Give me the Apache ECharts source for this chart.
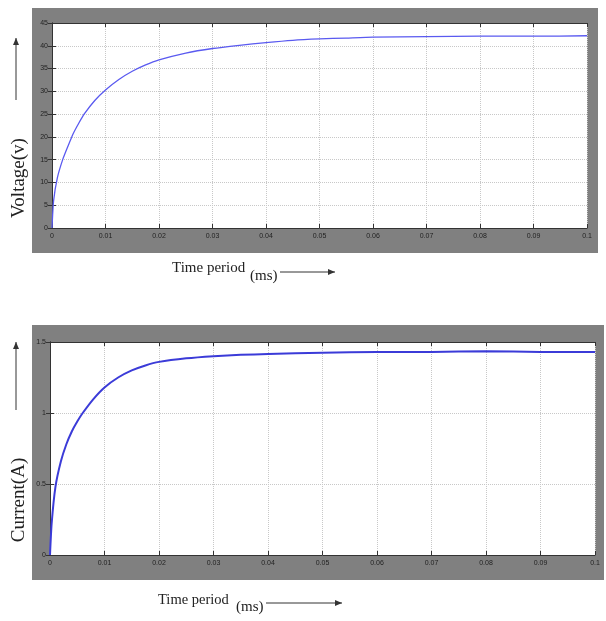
<!DOCTYPE html>
<html>
<head>
<meta charset="utf-8">
<script src="https://cdn.jsdelivr.net/npm/echarts@6/dist/echarts.min.js"></script>
<style>
  html, body { margin: 0; padding: 0; background: #fff; }
  #chart { width: 606px; height: 621px; }
</style>
</head>
<body>
<div id="chart"></div>
<script>
// time axis (ms scale as drawn in the figure)
var xTicks = [0, 0.01, 0.02, 0.03, 0.04, 0.05, 0.06, 0.07, 0.08, 0.09, 0.1];

// voltage response
var voltTime = [0, 0.0003, 0.001, 0.002, 0.003, 0.004, 0.005, 0.006, 0.008, 0.01, 0.0125, 0.015, 0.0175, 0.02, 0.025, 0.03, 0.035, 0.04, 0.045, 0.05, 0.055, 0.06, 0.07, 0.08, 0.09, 0.1];
var voltValue = [0, 6, 11, 15, 18, 20.8, 23, 25, 28, 30.3, 32.6, 34.4, 35.8, 36.9, 38.4, 39.4, 40.1, 40.7, 41.2, 41.5, 41.7, 41.9, 42.0, 42.1, 42.1, 42.2];

// current response
var currTime = [0, 0.0003, 0.001, 0.002, 0.003, 0.004, 0.005, 0.006, 0.008, 0.01, 0.0125, 0.015, 0.0175, 0.02, 0.025, 0.03, 0.035, 0.04, 0.05, 0.06, 0.07, 0.08, 0.09, 0.1];
var currValue = [0, 0.22, 0.48, 0.66, 0.78, 0.87, 0.94, 1.0, 1.1, 1.18, 1.25, 1.30, 1.335, 1.36, 1.385, 1.40, 1.41, 1.415, 1.425, 1.43, 1.43, 1.435, 1.43, 1.43];

function pairs(xs, ys) {
  return xs.map(function (x, i) { return [x, ys[i]]; });
}

var chart = echarts.init(document.getElementById('chart'));

var tickFont = { fontSize: 7, color: '#222', fontFamily: 'Liberation Sans' };
var splitStyle = { show: true, lineStyle: { color: '#c8c8c8', type: 'dotted', width: 1 } };

function xAx(gi, showLabel, pos) {
  return {
    type: 'value', gridIndex: gi, min: 0, max: 0.1, interval: 0.01, position: pos,
    axisLine: { show: true, onZero: false, lineStyle: { color: '#333', width: 1 } },
    axisTick: { show: true, inside: true, length: 4, lineStyle: { color: '#333' } },
    axisLabel: Object.assign({ show: showLabel, margin: 5, formatter: function (v) {
      return v === 0 ? '0' : String(+v.toFixed(2));
    } }, tickFont),
    splitLine: pos === 'bottom' ? splitStyle : { show: false }
  };
}

function yAx(gi, max, step, showLabel, pos) {
  return {
    type: 'value', gridIndex: gi, min: 0, max: max, interval: step, position: pos,
    axisLine: { show: true, lineStyle: { color: '#333', width: 1 } },
    axisTick: { show: true, inside: true, length: 4, lineStyle: { color: '#333' } },
    axisLabel: Object.assign({ show: showLabel, margin: 4 }, tickFont),
    splitLine: pos === 'left' ? splitStyle : { show: false }
  };
}

function arrowH(x1, x2, y) {
  return [
    { type: 'line', shape: { x1: x1, y1: y, x2: x2, y2: y }, style: { stroke: '#333', lineWidth: 1 } },
    { type: 'polygon', shape: { points: [[x2, y], [x2 - 7, y - 3], [x2 - 7, y + 3]] }, style: { fill: '#333' } }
  ];
}
function arrowV(x, y1, y2) {
  return [
    { type: 'line', shape: { x1: x, y1: y1, x2: x, y2: y2 }, style: { stroke: '#333', lineWidth: 1 } },
    { type: 'polygon', shape: { points: [[x, y2], [x - 3, y2 + 7], [x + 3, y2 + 7]] }, style: { fill: '#333' } }
  ];
}
function vTitle(text, x, y) {
  return {
    type: 'text', x: x, y: y, rotation: Math.PI / 2,
    style: { text: text, font: '19px Liberation Serif', fill: '#222', align: 'center', verticalAlign: 'middle' }
  };
}
function hText(text, x, y, size) {
  return {
    type: 'text', x: x, y: y,
    style: { text: text, font: size + 'px Liberation Serif', fill: '#222', align: 'left', verticalAlign: 'middle' }
  };
}

var option = {
  backgroundColor: '#fff',
  animation: false,
  grid: [
    { left: 52, top: 23, width: 535, height: 205, show: true, backgroundColor: '#fff', borderWidth: 0, outerBoundsMode: 'none', containLabel: false },
    { left: 50, top: 342, width: 545, height: 213, show: true, backgroundColor: '#fff', borderWidth: 0, outerBoundsMode: 'none', containLabel: false }
  ],
  xAxis: [
    xAx(0, true, 'bottom'), xAx(0, false, 'top'),
    xAx(1, true, 'bottom'), xAx(1, false, 'top')
  ],
  yAxis: [
    yAx(0, 45, 5, true, 'left'), yAx(0, 45, 5, false, 'right'),
    yAx(1, 1.5, 0.5, true, 'left'), yAx(1, 1.5, 0.5, false, 'right')
  ],
  series: [
    {
      type: 'line', xAxisIndex: 0, yAxisIndex: 0, data: pairs(voltTime, voltValue),
      smooth: 0.2, showSymbol: false, lineStyle: { color: '#5a5af0', width: 1.3 }
    },
    {
      type: 'line', xAxisIndex: 2, yAxisIndex: 2, data: pairs(currTime, currValue),
      smooth: 0.2, showSymbol: false, lineStyle: { color: '#3b3bd8', width: 2 }
    }
  ],
  graphic: [
    { type: 'rect', z: -10, shape: { x: 32, y: 8, width: 566, height: 245 }, style: { fill: '#808080' } },
    { type: 'rect', z: -10, shape: { x: 32, y: 325, width: 572, height: 255 }, style: { fill: '#808080' } },
    vTitle('Voltage(v)', 19, 178),
    vTitle('Current(A)', 19, 500),
    hText('Time period', 172, 268, 15),
    hText('(ms)', 250, 276, 15),
    hText('Time period', 158, 600, 14.5),
    hText('(ms)', 236, 607, 15)
  ].concat(arrowH(280, 335, 272), arrowH(266, 342, 603), arrowV(16, 100, 38), arrowV(16, 410, 342))
};

chart.setOption(option);
</script>
</body>
</html>
